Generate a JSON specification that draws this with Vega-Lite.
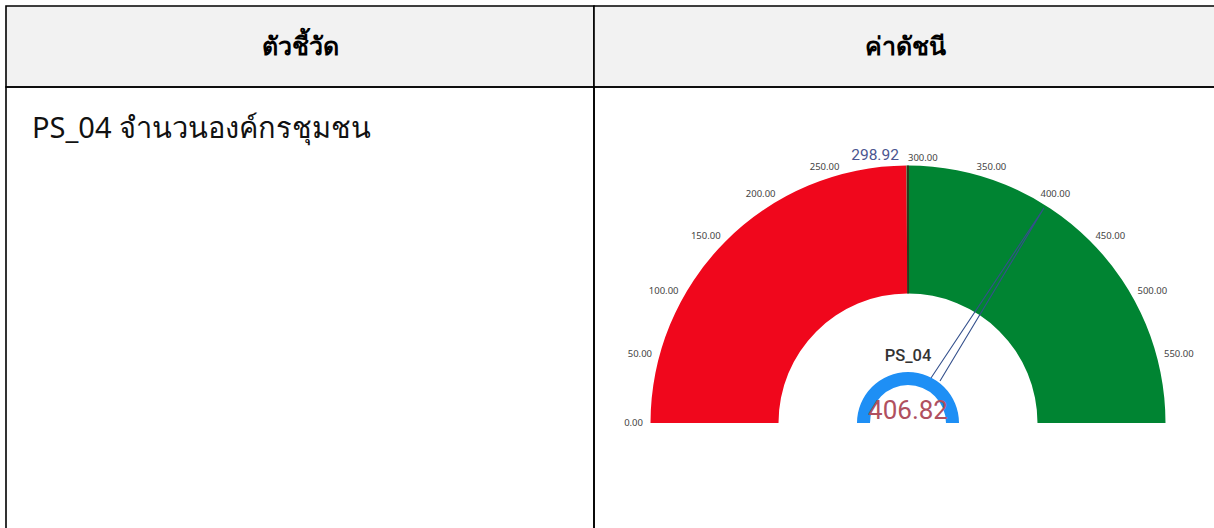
{
  "$schema": "https://vega.github.io/schema/vega-lite/v6.json",
  "background": "white",
  "padding": {"left": 5, "top": 5, "right": 0, "bottom": 0},
  "spacing": 0,
  "bounds": "flush",
  "columns": 2,
  "config": {
    "view": {"stroke": "#000000", "strokeWidth": 1.6},
    "concat": {"spacing": 0},
    "text": {"font": "Noto Sans"}
  },
  "datasets": {
    "ticks": [
      {"t": 0}, {"t": 50}, {"t": 100}, {"t": 150}, {"t": 200}, {"t": 250},
      {"t": 300}, {"t": 350}, {"t": 400}, {"t": 450}, {"t": 500}, {"t": 550}
    ]
  },
  "concat": [
    {
      "width": 588,
      "height": 81,
      "view": {"fill": "#f2f2f2", "stroke": "#000000", "strokeWidth": 1.6},
      "data": {"values": [{"label": "ตัวชี้วัด"}]},
      "mark": {"type": "text", "fontSize": 25, "fontWeight": "bold", "color": "#000000"},
      "encoding": {"text": {"field": "label", "type": "nominal"}}
    },
    {
      "width": 622,
      "height": 81,
      "view": {"fill": "#f2f2f2", "stroke": "#000000", "strokeWidth": 1.6},
      "data": {"values": [{"label": "ค่าดัชนี"}]},
      "mark": {"type": "text", "fontSize": 25, "fontWeight": "bold", "color": "#000000"},
      "encoding": {"text": {"field": "label", "type": "nominal"}}
    },
    {
      "width": 588,
      "height": 448,
      "data": {"values": [{"label": "PS_04 จำนวนองค์กรชุมชน"}]},
      "mark": {"type": "text", "align": "left", "baseline": "alphabetic", "fontSize": 29, "color": "#111111"},
      "encoding": {
        "text": {"field": "label", "type": "nominal"},
        "x": {"value": 26},
        "y": {"value": 51}
      }
    },
    {
      "width": 622,
      "height": 448,
      "layer": [
        {
          "data": {"values": [
            {"band": "below", "start": 0, "end": 298.92},
            {"band": "above", "start": 298.92, "end": 600}
          ]},
          "mark": {"type": "arc", "radius": 257.5, "radius2": 129.5},
          "encoding": {
            "x": {"datum": 0, "type": "quantitative", "scale": {"domain": [-1.21942, 1.19612], "nice": false, "zero": false}, "axis": null},
            "y": {"datum": 0, "type": "quantitative", "scale": {"domain": [-0.43495, 1.30485], "nice": false, "zero": false}, "axis": null},
            "theta": {"field": "start", "type": "quantitative", "stack": null, "scale": {"domain": [0, 600], "range": [-1.5707963, 1.5707963]}},
            "theta2": {"field": "end"},
            "color": {"field": "band", "type": "nominal", "scale": {"domain": ["below", "above"], "range": ["#f0071c", "#008432"]}, "legend": null}
          }
        },
        {
          "data": {"values": [{"gx": 0, "gy": 0.503}, {"gx": 0, "gy": 1.0}]},
          "mark": {"type": "line", "color": "#3b1d14", "strokeWidth": 1.4},
          "encoding": {
            "x": {"field": "gx", "type": "quantitative", "scale": {"domain": [-1.21942, 1.19612], "nice": false, "zero": false}, "axis": null},
            "y": {"field": "gy", "type": "quantitative", "scale": {"domain": [-0.43495, 1.30485], "nice": false, "zero": false}, "axis": null}
          }
        },
        {
          "data": {"name": "ticks"},
          "transform": [{"filter": "datum.t < 300"}],
          "mark": {"type": "text", "radius": 265, "align": "right", "baseline": "middle", "fontSize": 9.5, "color": "#444444"},
          "encoding": {
            "x": {"datum": 0, "type": "quantitative", "scale": {"domain": [-1.21942, 1.19612], "nice": false, "zero": false}, "axis": null},
            "y": {"datum": 0, "type": "quantitative", "scale": {"domain": [-0.43495, 1.30485], "nice": false, "zero": false}, "axis": null},
            "theta": {"field": "t", "type": "quantitative", "scale": {"domain": [0, 600], "range": [-1.5707963, 1.5707963]}},
            "text": {"field": "t", "type": "quantitative", "format": ".2f"}
          }
        },
        {
          "data": {"name": "ticks"},
          "transform": [{"filter": "datum.t >= 300"}],
          "mark": {"type": "text", "radius": 265, "align": "left", "baseline": "middle", "fontSize": 9.5, "color": "#444444"},
          "encoding": {
            "x": {"datum": 0, "type": "quantitative", "scale": {"domain": [-1.21942, 1.19612], "nice": false, "zero": false}, "axis": null},
            "y": {"datum": 0, "type": "quantitative", "scale": {"domain": [-0.43495, 1.30485], "nice": false, "zero": false}, "axis": null},
            "theta": {"field": "t", "type": "quantitative", "scale": {"domain": [0, 600], "range": [-1.5707963, 1.5707963]}},
            "text": {"field": "t", "type": "quantitative", "format": ".2f"}
          }
        },
        {
          "data": {"values": [
            {"o": 1, "gx": 0.0893, "gy": 0.1748},
            {"o": 2, "gx": 0.528, "gy": 0.835},
            {"o": 3, "gx": 0.1243, "gy": 0.1631}
          ]},
          "mark": {"type": "line", "color": "#34508c", "strokeWidth": 1.1},
          "encoding": {
            "x": {"field": "gx", "type": "quantitative", "scale": {"domain": [-1.21942, 1.19612], "nice": false, "zero": false}, "axis": null},
            "y": {"field": "gy", "type": "quantitative", "scale": {"domain": [-0.43495, 1.30485], "nice": false, "zero": false}, "axis": null},
            "order": {"field": "o", "type": "quantitative"}
          }
        },
        {
          "data": {"values": [{"s": 0, "e": 600}]},
          "mark": {"type": "arc", "radius": 51, "radius2": 38, "color": "#1e8ff5"},
          "encoding": {
            "x": {"datum": 0, "type": "quantitative", "scale": {"domain": [-1.21942, 1.19612], "nice": false, "zero": false}, "axis": null},
            "y": {"datum": 0, "type": "quantitative", "scale": {"domain": [-0.43495, 1.30485], "nice": false, "zero": false}, "axis": null},
            "theta": {"field": "s", "type": "quantitative", "stack": null, "scale": {"domain": [0, 600], "range": [-1.5707963, 1.5707963]}},
            "theta2": {"field": "e"}
          }
        },
        {
          "data": {"values": [{"gx": 0, "gy": 0.26, "label": "PS_04"}]},
          "mark": {"type": "text", "font": "Roboto", "fontSize": 16.5, "fontWeight": 500, "color": "#333333", "baseline": "middle"},
          "encoding": {
            "x": {"field": "gx", "type": "quantitative", "scale": {"domain": [-1.21942, 1.19612], "nice": false, "zero": false}, "axis": null},
            "y": {"field": "gy", "type": "quantitative", "scale": {"domain": [-0.43495, 1.30485], "nice": false, "zero": false}, "axis": null},
            "text": {"field": "label", "type": "nominal"}
          }
        },
        {
          "data": {"values": [{"gx": 0, "gy": 0.047, "value": 406.82}]},
          "mark": {"type": "text", "font": "Roboto", "fontSize": 26, "color": "#b0505f", "baseline": "middle"},
          "encoding": {
            "x": {"field": "gx", "type": "quantitative", "scale": {"domain": [-1.21942, 1.19612], "nice": false, "zero": false}, "axis": null},
            "y": {"field": "gy", "type": "quantitative", "scale": {"domain": [-0.43495, 1.30485], "nice": false, "zero": false}, "axis": null},
            "text": {"field": "value", "type": "quantitative", "format": ".2f"}
          }
        },
        {
          "data": {"values": [{"gx": -0.128, "gy": 1.041, "value": 298.92}]},
          "mark": {"type": "text", "font": "Roboto", "fontSize": 15.5, "color": "#4a5590", "baseline": "middle"},
          "encoding": {
            "x": {"field": "gx", "type": "quantitative", "scale": {"domain": [-1.21942, 1.19612], "nice": false, "zero": false}, "axis": null},
            "y": {"field": "gy", "type": "quantitative", "scale": {"domain": [-0.43495, 1.30485], "nice": false, "zero": false}, "axis": null},
            "text": {"field": "value", "type": "quantitative", "format": ".2f"}
          }
        }
      ]
    }
  ]
}
